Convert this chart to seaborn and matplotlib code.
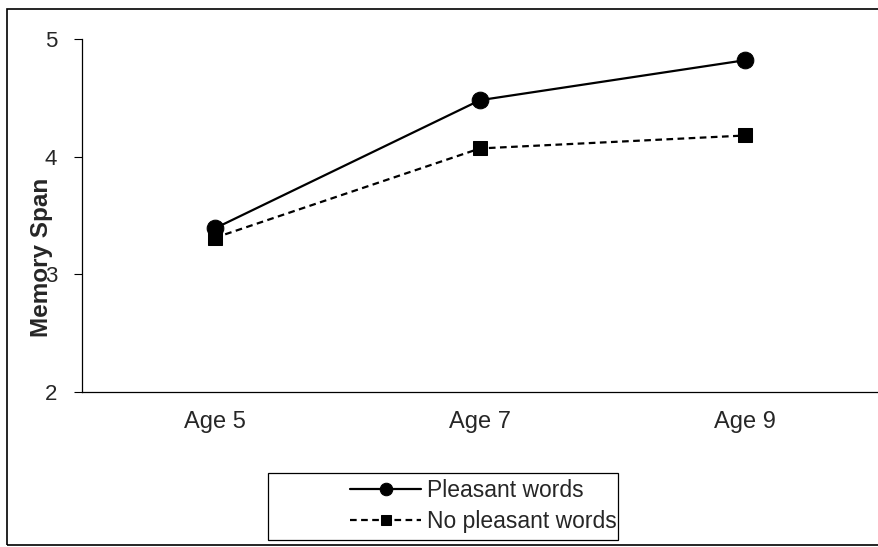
import matplotlib
matplotlib.use("Agg")
import matplotlib.pyplot as plt
import seaborn as sns
import pandas as pd
from matplotlib.patches import Rectangle

# --- Dados ---
ages = ["Age 5", "Age 7", "Age 9"]
pleasant = [3.39, 4.48, 4.82]
no_pleasant = [3.31, 4.07, 4.18]
series_names = ["Pleasant words", "No pleasant words"]

df = pd.DataFrame({
    "Age": ages * 2,
    "Span": pleasant + no_pleasant,
    "Group": [series_names[0]] * 3 + [series_names[1]] * 3,
})

sns.set_theme(style="white")
plt.rcParams['font.family'] = ['Liberation Sans', 'DejaVu Sans']

fig = plt.figure(figsize=(8.79, 5.47), dpi=100)
ax = fig.add_axes([82 / 879, 1 - 392 / 547, 796 / 879, 353 / 547])

styles = {
    series_names[0]: dict(marker="o", markersize=12, linestyle="-"),
    series_names[1]: dict(marker="s", markersize=10, linestyle=(0, (3, 2))),
}
for name in series_names:
    sub = df[df["Group"] == name]
    sns.lineplot(data=sub, x="Age", y="Span", ax=ax, color="black", linewidth=1.6,
                 label=name, sort=False, markeredgecolor="black", **styles[name])

# Eixos
ax.set_xlim(-0.5, 2.5)
ax.set_ylim(2, 5)
ax.set_yticks([2, 3, 4, 5])
ax.set_xticks([0, 1, 2])
ax.set_xticklabels(ages)
ax.set_xticks([-0.5, 0.5, 1.5, 2.5], minor=True)
ax.tick_params(axis="x", which="major", length=0, pad=14, labelsize=17)
ax.tick_params(axis="x", which="minor", length=6, width=0.8, color="black", direction="out")
ax.tick_params(axis="y", length=6, width=0.8, color="black", direction="out", left=True,
               labelsize=16, pad=12)
for s in ["top", "right"]:
    ax.spines[s].set_visible(False)
for s in ["left", "bottom"]:
    ax.spines[s].set_color("black")
    ax.spines[s].set_linewidth(0.9)
ax.set_xlabel("")
ax.set_ylabel("Memory Span", fontsize=17.5, fontweight="bold")
ax.yaxis.set_label_coords(-0.037, 0.38)

# Legenda
ax.get_legend().remove()
handles, labels = ax.get_legend_handles_labels()
fig.legend(handles, labels, loc="center left", bbox_to_anchor=(350 / 879, 1 - 506 / 547),
           frameon=False, fontsize=16.5, handlelength=3.1, handletextpad=0.25,
           labelspacing=0.35, borderpad=0, borderaxespad=0, markerscale=0.75)
fig.patches.append(Rectangle((268 / 879, 1 - 540 / 547), 350 / 879, 67 / 547,
                             transform=fig.transFigure, fill=False, edgecolor="black", linewidth=0.9))

# Borda externa
fig.patches.append(Rectangle((7 / 879, 2 / 547), 1.0, 1 - 11 / 547,
                             transform=fig.transFigure, fill=False, edgecolor="black", linewidth=1.2))

fig.savefig("out.png", dpi=100)
